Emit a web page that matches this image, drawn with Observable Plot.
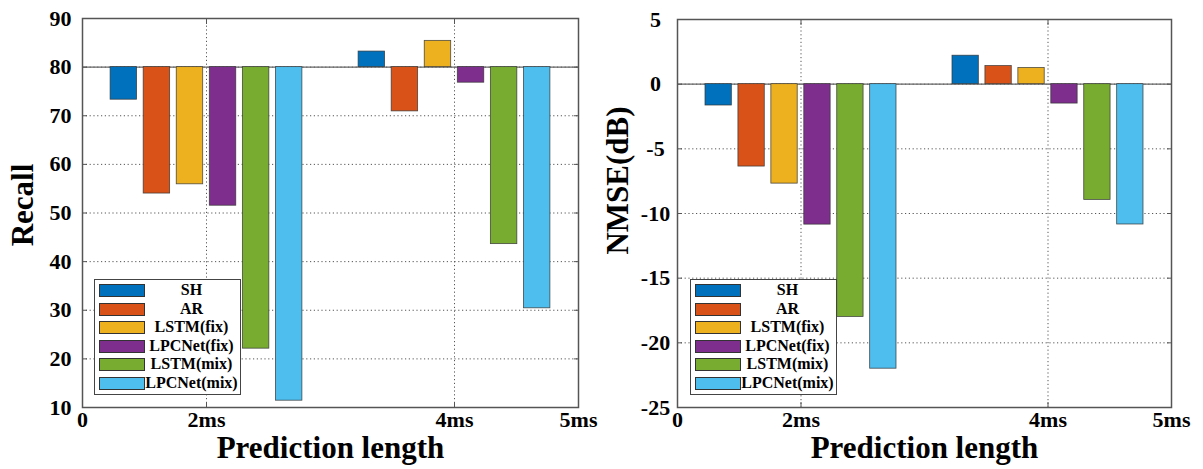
<!DOCTYPE html>
<html>
<head>
<meta charset="utf-8">
<script src="https://cdn.jsdelivr.net/npm/d3@7"></script>
<script src="https://cdn.jsdelivr.net/npm/@observablehq/plot@0.6"></script>
<style>
  html, body { margin: 0; padding: 0; background: #fff; }
  #wrap { position: relative; width: 1203px; height: 469px; font-family: "Liberation Serif", "Times New Roman", serif; }
  .panel { position: absolute; top: 0; }
  .legend { position: absolute; background: #fff; border: 1.5px solid #444; box-sizing: border-box; }
  .legend .row { position: absolute; left: 0; right: 0; height: 15px; }
  .legend .sw { position: absolute; left: 4px; top: 1px; width: 46px; height: 13px; box-sizing: border-box; border: 1px solid #333; }
  .legend .lb { position: absolute; left: 48px; right: 0; top: -2px; text-align: center; font-family: "Liberation Serif", serif; font-weight: bold; font-size: 16px; line-height: 18px; color: #000; white-space: nowrap; }
</style>
</head>
<body>
<div id="wrap"></div>
<script>
// ---- data ----
const series = ["SH", "AR", "LSTM(fix)", "LPCNet(fix)", "LSTM(mix)", "LPCNet(mix)"];
const colors = ["#0072BD", "#D95319", "#EDB120", "#7E2F8E", "#77AC30", "#4DBEEE"];
const lengths = ["2ms", "4ms"];
const xTickValues = [0, 1, 3, 4];
const xTickLabels = ["0", "2ms", "4ms", "5ms"];
const groupTick = [1, 3]; // tick value of 2ms and 4ms groups

const recall2ms = [73.3, 54.0, 55.9, 51.5, 22.1, 11.4];
const recall4ms = [83.2, 70.9, 85.4, 76.8, 43.6, 30.4];
const recallTicks = [10, 20, 30, 40, 50, 60, 70, 80, 90];
const recallBase = 80;

const nmse2ms = [-1.65, -6.37, -7.69, -10.86, -18.0, -22.0];
const nmse4ms = [2.2, 1.4, 1.25, -1.5, -8.95, -10.85];
const nmseTicks = [-25, -20, -15, -10, -5, 0, 5];
const nmseBase = 0;

// grouped bar geometry (MATLAB-like grouped bars)
const groupWidth = 1.6, barFrac = 0.8;
function table(a, b) {
  const rows = [];
  [a, b].forEach((vals, g) => vals.forEach((v, s) => {
    const pitch = groupWidth / series.length;
    const c = groupTick[g] + (s - (series.length - 1) / 2) * pitch;
    rows.push({length: lengths[g], series: series[s], value: v, x1: c - pitch * barFrac / 2, x2: c + pitch * barFrac / 2});
  }));
  return rows;
}

function panel({rows, base, domain, ticks, ylabel, labelShift, left, width, marginLeft, marginRight, marginTop}) {
  const fmt = d => String(d);
  const font = "'Liberation Serif', 'Times New Roman', serif";
  const chart = Plot.plot({
    width, height: 469,
    marginLeft, marginRight, marginTop, marginBottom: 62,
    style: {fontFamily: font, fontWeight: "bold", color: "#000", background: "transparent", overflow: "visible"},
    x: {domain: [0, 4]},
    y: {domain},
    color: {domain: series, range: colors},
    marks: [
      Plot.gridY(ticks, {stroke: "#444", strokeOpacity: 0.9, strokeDasharray: "1.2,2.6", strokeWidth: 1}),
      Plot.gridX(groupTick, {stroke: "#444", strokeOpacity: 0.9, strokeDasharray: "1.2,2.6", strokeWidth: 1}),
      Plot.ruleY([base], {stroke: "#666", strokeWidth: 1.2}),
      Plot.rect(rows, {x1: "x1", x2: "x2", y1: () => base, y2: "value", fill: "series", stroke: "#333", strokeWidth: 0.8, strokeOpacity: 0.85}),
      Plot.frame({stroke: "#555", strokeWidth: 1.5}),
      // inward tick marks on all four sides
      Plot.axisY(ticks, {anchor: "left", tickSize: -5, tickFormat: () => "", stroke: "#555", label: null}),
      Plot.axisY(ticks, {anchor: "right", tickSize: -5, tickFormat: () => "", stroke: "#555", label: null}),
      Plot.axisX(groupTick, {anchor: "bottom", tickSize: -5, tickFormat: () => "", stroke: "#555", label: null}),
      Plot.axisX(groupTick, {anchor: "top", tickSize: -5, tickFormat: () => "", stroke: "#555", label: null}),
      // tick labels
      Plot.axisY(ticks, {anchor: "left", tickSize: 0, tickPadding: 22, textAnchor: "middle", fontSize: 22, fontFamily: font, tickFormat: fmt, label: null}),
      Plot.axisX(xTickValues, {anchor: "bottom", tickSize: 0, tickPadding: 4, fontSize: 22, fontFamily: font, tickFormat: d => xTickLabels[xTickValues.indexOf(d)], label: null}),
      // axis titles
      Plot.text([ylabel], {frameAnchor: "left", rotate: -90, dx: -59, dy: labelShift, textAnchor: "middle", lineAnchor: "middle", fontSize: 31, fontFamily: font, fontWeight: "bold", fill: "#000"}),
      Plot.axisX({anchor: "bottom", ticks: [], label: "Prediction length", labelAnchor: "center", labelArrow: "none", labelOffset: 50, fontSize: 31, fontFamily: font})
    ]
  });
  const div = document.createElement("div");
  div.className = "panel";
  div.style.left = left + "px";
  div.appendChild(chart);
  document.getElementById("wrap").appendChild(div);
}

function legend(left, top) {
  const box = document.createElement("div");
  box.className = "legend";
  box.style.left = left + "px";
  box.style.top = top + "px";
  box.style.width = "147px";
  box.style.height = "116px";
  series.forEach((s, i) => {
    const row = document.createElement("div");
    row.className = "row";
    row.style.top = (3 + i * 18.6) + "px";
    const sw = document.createElement("div");
    sw.className = "sw";
    sw.style.background = colors[i];
    const lb = document.createElement("div");
    lb.className = "lb";
    lb.textContent = s;
    row.appendChild(sw); row.appendChild(lb);
    box.appendChild(row);
  });
  document.getElementById("wrap").appendChild(box);
}

panel({rows: table(recall2ms, recall4ms), base: recallBase, domain: [10, 90], ticks: recallTicks, ylabel: "Recall", labelShift: -8,
       left: 0, width: 600, marginLeft: 82, marginRight: 22, marginTop: 18});
panel({rows: table(nmse2ms, nmse4ms), base: nmseBase, domain: [-25, 5], ticks: nmseTicks, ylabel: "NMSE(dB)", labelShift: -33,
       left: 600, width: 603, marginLeft: 77, marginRight: 32, marginTop: 19});
legend(94, 279);
legend(690, 279);
</script>
</body>
</html>
